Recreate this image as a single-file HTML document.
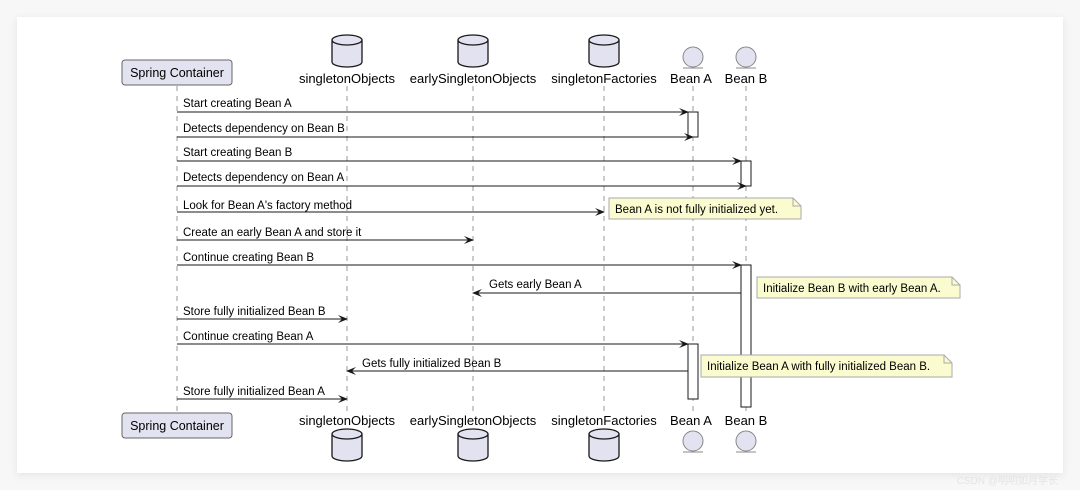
<!DOCTYPE html>
<html><head><style>body{margin:0;background:#f7f7f7}svg{display:block}</style></head><body>
<svg width="1080" height="490" xmlns="http://www.w3.org/2000/svg" font-family="Liberation Sans, sans-serif" font-size="12">
<defs><filter id="s" x="-5%" y="-5%" width="110%" height="115%"><feDropShadow dx="0" dy="2" stdDeviation="4" flood-color="#000" flood-opacity="0.08"/></filter>
<marker id="a" markerWidth="10" markerHeight="8" refX="9" refY="4" orient="auto" markerUnits="userSpaceOnUse"><path d="M0,0 L10,4 L0,8 L4,4z" fill="#181818"/></marker></defs>
<rect x="17" y="17" width="1046" height="456" fill="#fff" filter="url(#s)"/>
<g stroke="#999" stroke-dasharray="5,5" stroke-width="1">
<line x1="177" y1="86" x2="177" y2="412"/><line x1="347" y1="86" x2="347" y2="412"/><line x1="473" y1="86" x2="473" y2="412"/><line x1="604" y1="86" x2="604" y2="412"/><line x1="693" y1="86" x2="693" y2="412"/><line x1="746" y1="86" x2="746" y2="412"/>
</g>
<g fill="#e2e2f0" stroke="#181818" stroke-width="1">
<rect x="122" y="60" width="110" height="25" rx="3" stroke="#666"/><rect x="122" y="413" width="110" height="25" rx="3" stroke="#666"/>
</g>
<g font-size="12.5" fill="#000"><text x="177" y="77" text-anchor="middle">Spring Container</text><text x="177" y="430" text-anchor="middle">Spring Container</text></g>
<g fill="#e2e2f0" stroke="#181818" stroke-width="1.3">
<path d="M332,40 v22 a15,5 0 0 0 30,0 v-22 a15,5 0 0 0 -30,0 a15,5 0 0 0 30,0"/>
<path d="M458,40 v22 a15,5 0 0 0 30,0 v-22 a15,5 0 0 0 -30,0 a15,5 0 0 0 30,0"/>
<path d="M589,40 v22 a15,5 0 0 0 30,0 v-22 a15,5 0 0 0 -30,0 a15,5 0 0 0 30,0"/>
<path d="M332,434 v22 a15,5 0 0 0 30,0 v-22 a15,5 0 0 0 -30,0 a15,5 0 0 0 30,0"/>
<path d="M458,434 v22 a15,5 0 0 0 30,0 v-22 a15,5 0 0 0 -30,0 a15,5 0 0 0 30,0"/>
<path d="M589,434 v22 a15,5 0 0 0 30,0 v-22 a15,5 0 0 0 -30,0 a15,5 0 0 0 30,0"/>
</g>
<g fill="#e2e2f0" stroke="#888" stroke-width="1">
<circle cx="693" cy="57" r="10"/><circle cx="746" cy="57" r="10"/><circle cx="693" cy="441" r="10"/><circle cx="746" cy="441" r="10"/>
<line x1="683" y1="68" x2="703" y2="68"/><line x1="736" y1="68" x2="756" y2="68"/><line x1="683" y1="452" x2="703" y2="452"/><line x1="736" y1="452" x2="756" y2="452"/>
</g>
<g font-size="13" text-anchor="middle" fill="#000">
<text x="347" y="83">singletonObjects</text><text x="473" y="83">earlySingletonObjects</text><text x="604" y="83">singletonFactories</text><text x="691" y="83">Bean A</text><text x="746" y="83">Bean B</text>
<text x="347" y="425">singletonObjects</text><text x="473" y="425">earlySingletonObjects</text><text x="604" y="425">singletonFactories</text><text x="691" y="425">Bean A</text><text x="746" y="425">Bean B</text>
</g>
<g fill="#fff" stroke="#181818">
<rect x="688" y="112" width="10" height="25"/><rect x="741" y="161" width="10" height="25"/><rect x="741" y="265" width="10" height="142"/><rect x="688" y="344" width="10" height="55"/>
</g>
<g stroke="#181818" stroke-width="1" marker-end="url(#a)">
<line x1="177" y1="112" x2="688" y2="112"/><line x1="177" y1="137" x2="693" y2="137"/>
<line x1="177" y1="161" x2="741" y2="161"/><line x1="177" y1="186" x2="746" y2="186"/>
<line x1="177" y1="212" x2="604" y2="212"/><line x1="177" y1="240" x2="473" y2="240"/>
<line x1="177" y1="265" x2="741" y2="265"/><line x1="741" y1="293" x2="473" y2="293"/>
<line x1="177" y1="319" x2="347" y2="319"/><line x1="177" y1="344" x2="688" y2="344"/>
<line x1="688" y1="371" x2="347" y2="371"/><line x1="177" y1="399" x2="347" y2="399"/>
</g>
<g fill="#000" font-size="11.5">
<text x="183" y="107">Start creating Bean A</text><text x="183" y="132">Detects dependency on Bean B</text>
<text x="183" y="156">Start creating Bean B</text><text x="183" y="181">Detects dependency on Bean A</text>
<text x="183" y="209">Look for Bean A's factory method</text><text x="183" y="236">Create an early Bean A and store it</text>
<text x="183" y="261">Continue creating Bean B</text><text x="489" y="288">Gets early Bean A</text>
<text x="183" y="315">Store fully initialized Bean B</text><text x="183" y="340">Continue creating Bean A</text>
<text x="362" y="367">Gets fully initialized Bean B</text><text x="183" y="395">Store fully initialized Bean A</text>
</g>
<g fill="#fbfbd0" stroke="#aaa" stroke-width="1">
<path d="M609,198 h184 l8,8 v13 h-192z"/><path d="M793,198 v8 h8" fill="none"/>
<path d="M757,277 h195 l8,8 v13 h-203z"/><path d="M952,277 v8 h8" fill="none"/>
<path d="M701,355 h243 l8,8 v14 h-251z"/><path d="M944,355 v8 h8" fill="none"/>
</g>
<g fill="#000" font-size="11.5">
<text x="615" y="213">Bean A is not fully initialized yet.</text>
<text x="763" y="292">Initialize Bean B with early Bean A.</text>
<text x="707" y="370">Initialize Bean A with fully initialized Bean B.</text>
</g>
<text x="1058" y="484" font-size="10" fill="#e4e4e4" text-anchor="end">CSDN @明明如月学长</text>
</svg>
</body></html>
